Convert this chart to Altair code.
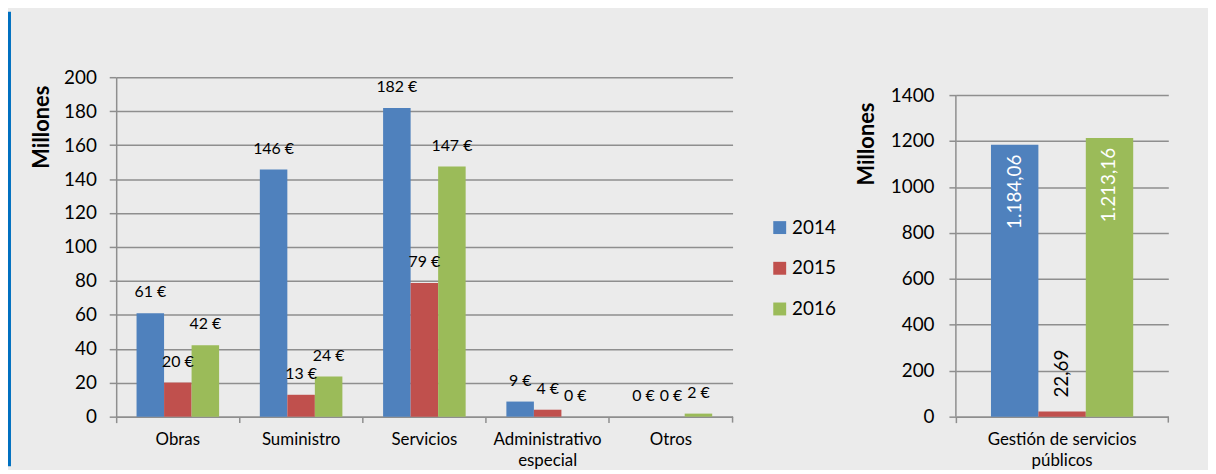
import altair as alt
import pandas as pd

FONT = "Lato"
GRID = "#8E8E8E"
LW = 1.5

categories = ["Obras", "Suministro", "Servicios", "Administrativo especial", "Otros"]
years = ["2014", "2015", "2016"]
colors = ["#4F81BD", "#C0504D", "#9BBB59"]

v2014 = [61.0, 145.6, 181.9, 8.9, 0.0]
v2015 = [20.1, 12.9, 78.7, 4.1, 0.0]
v2016 = [42.1, 23.6, 147.4, 0.0, 1.8]

gestion_cat = ["Gestión de servicios públicos"]
gestion_vals = [1184.06, 22.69, 1213.16]
gestion_labels = ["1.184,06", "22,69", "1.213,16"]

series = {"2014": v2014, "2015": v2015, "2016": v2016}
rows = []
for i, c in enumerate(categories):
    for yv in years:
        rows.append({"categoria": c, "anio": yv, "valor": series[yv][i]})
df_left = pd.DataFrame(rows)

df_right = pd.DataFrame({
    "categoria": gestion_cat * 3,
    "anio": years,
    "valor": gestion_vals,
    "etiqueta": gestion_labels,
})

W1, H1 = 621, 342
W2, H2 = 214, 342
RMAX = 1400 * 342 / 324

color_scale = alt.Scale(domain=years, range=colors)

# ---------- left chart ----------
x1 = alt.X(
    "categoria:N", sort=categories,
    scale=alt.Scale(paddingInner=0, paddingOuter=0),
    axis=alt.Axis(
        title=None, labelAngle=0, bandPosition=0, tickSize=6, labelPadding=9,
        labelFontSize=17, labelFont=FONT, labelColor="black",
        labelExpr="datum.label == 'Administrativo especial' ? ['Administrativo', 'especial'] : datum.label",
        labelLineHeight=21, domainColor=GRID, tickColor=GRID, labelBaseline="top",
        domainWidth=LW, tickWidth=LW,
    ),
)
xo1 = alt.XOffset("anio:N", sort=years, scale=alt.Scale(paddingInner=0, paddingOuter=0.74))
y1 = alt.Y(
    "valor:Q", scale=alt.Scale(domain=[0, 200], nice=False),
    axis=alt.Axis(
        values=list(range(0, 201, 20)), format="d", title="Millones", titleFont=FONT,
        titleFontSize=22, titleFontWeight="bold", titleColor="black", titlePadding=10,
        titleAnchor="end", titleAlign="right", titleY=8,
        labelFont=FONT, labelFontSize=19, labelColor="black", labelPadding=13,
        tickSize=7, tickColor=GRID, domainColor=GRID, gridColor=GRID, grid=True,
        gridWidth=LW, domainWidth=LW, tickWidth=LW,
    ),
)

bars1 = alt.Chart(df_left).mark_bar().encode(
    x=x1, xOffset=xo1, y=y1,
    color=alt.Color(
        "anio:N", scale=color_scale,
        legend=alt.Legend(
            title=None, orient="none", legendX=659, legendY=142,
            symbolType="square", symbolSize=169, symbolStrokeWidth=0, symbolOpacity=1,
            labelFontSize=19, labelFont=FONT, labelColor="black", rowPadding=21,
            labelOffset=3,
        ),
    ),
)
text1 = alt.Chart(df_left).transform_calculate(
    lab="format(datum.valor, '.0f') + ' €'"
).mark_text(baseline="bottom", dy=-13, fontSize=16, font=FONT, color="black").encode(
    x=x1, xOffset=xo1, y=y1, text="lab:N"
)
one = pd.DataFrame({"k": [0]})
end_tick1 = alt.Chart(one).mark_rule(color=GRID, strokeWidth=LW).encode(
    x=alt.value(W1), y=alt.value(H1), y2=alt.value(H1 + 6)
)
stripe = alt.Chart(one).mark_rule(color="#0070C0", strokeWidth=3).encode(
    x=alt.value(-107.5), y=alt.value(-66), y2=alt.value(392)
)
left = alt.layer(bars1, text1, end_tick1, stripe).properties(width=W1, height=H1)

# ---------- right chart ----------
x2 = alt.X(
    "categoria:N",
    scale=alt.Scale(paddingInner=0, paddingOuter=0),
    axis=alt.Axis(
        title=None, labelAngle=0, bandPosition=0, tickSize=6, labelPadding=9,
        labelFontSize=17, labelFont=FONT, labelColor="black",
        labelExpr="datum.label == 'Gestión de servicios públicos' ? ['Gestión de servicios', 'públicos'] : datum.label",
        labelLineHeight=21, domainColor=GRID, tickColor=GRID, labelBaseline="top",
        domainWidth=LW, tickWidth=LW,
    ),
)
xo2 = alt.XOffset("anio:N", sort=years, scale=alt.Scale(paddingInner=0, paddingOuter=0.74))
y2 = alt.Y(
    "valor:Q", scale=alt.Scale(domain=[0, RMAX], nice=False),
    axis=alt.Axis(
        values=list(range(0, 1401, 200)), format="d", title="Millones", titleFont=FONT,
        titleFontSize=22, titleFontWeight="bold", titleColor="black", titlePadding=12,
        titleAnchor="end", titleAlign="right", titleY=25,
        labelFont=FONT, labelFontSize=19, labelColor="black", labelPadding=15,
        tickSize=7, tickColor=GRID, domain=False, gridColor=GRID, grid=True,
        gridWidth=LW, tickWidth=LW,
    ),
)
bars2 = alt.Chart(df_right).mark_bar().encode(
    x=x2, xOffset=xo2, y=y2,
    color=alt.Color("anio:N", scale=color_scale, legend=None),
)
text2_in = alt.Chart(df_right).transform_filter("datum.anio != '2015'").mark_text(
    angle=270, align="right", baseline="middle", dx=-10, fontSize=19, font=FONT, color="white"
).encode(x=x2, xOffset=xo2, y=y2, text="etiqueta:N")
text2_out = alt.Chart(df_right).transform_filter("datum.anio == '2015'").mark_text(
    angle=270, align="left", baseline="middle", dx=14, fontSize=19, font=FONT, color="black"
).encode(x=x2, xOffset=xo2, y=y2, text="etiqueta:N")
axis_line2 = alt.Chart(one).mark_rule(color=GRID, strokeWidth=LW).encode(
    x=alt.value(0), y=alt.datum(0), y2=alt.datum(1400)
)
end_tick2 = alt.Chart(one).mark_rule(color=GRID, strokeWidth=LW).encode(
    x=alt.value(W2), y=alt.value(H2), y2=alt.value(H2 + 6)
)
right = alt.layer(bars2, text2_in, text2_out, axis_line2, end_tick2).properties(width=W2, height=H2)

chart = alt.hconcat(left, right, spacing=18).resolve_legend(color="independent").resolve_scale(
    xOffset="independent", x="independent", y="independent"
).properties(
    padding={"left": 0, "top": 0, "right": 39, "bottom": 0},
    background="#EBEBEB",
).configure_view(strokeWidth=0)

chart.save("out.html", embed_options={"renderer": "svg", "actions": False})
